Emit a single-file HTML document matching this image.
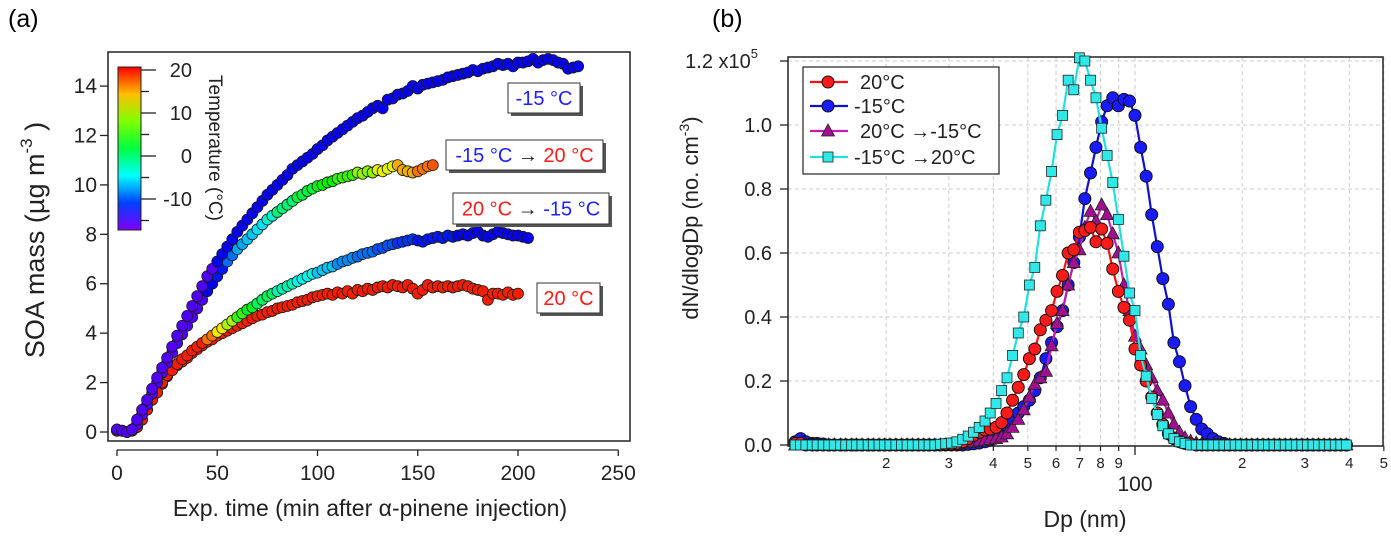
<!DOCTYPE html>
<html><head><meta charset="utf-8"><style>
html,body{margin:0;padding:0;background:#fff;}
svg{display:block;font-family:"Liberation Sans",Arial,sans-serif;}
</style></head><body>
<svg id="fig" width="1391" height="539" viewBox="0 0 1391 539" xmlns="http://www.w3.org/2000/svg">
<defs>
<linearGradient id="cbar" x1="0" y1="0" x2="0" y2="1">
<stop offset="0" stop-color="hsl(0,100%,50%)"/><stop offset="0.167" stop-color="hsl(45,100%,50%)"/>
<stop offset="0.333" stop-color="hsl(90,100%,50%)"/><stop offset="0.5" stop-color="hsl(135,100%,50%)"/>
<stop offset="0.667" stop-color="hsl(180,100%,50%)"/><stop offset="0.833" stop-color="hsl(225,100%,50%)"/>
<stop offset="1" stop-color="hsl(270,100%,50%)"/>
</linearGradient>
</defs>
<text x="8" y="27" font-size="25">(a)</text>
<text x="712" y="27" font-size="25">(b)</text>
<g id="pa"></g>
<g id="pb"></g>
</svg>
<script>
// ---------- Panel (a) data ----------
const tStep = 2.5;
const massA = [0.1,0.05,0.0,0.1,0.5,0.9,1.3,1.75,2.2,2.6,3.0,3.45,3.9,4.3,4.7,5.1,5.5,5.9,6.3,6.6,6.9,7.2,7.5,7.8,8.1,8.35,8.6,8.85,9.1,9.35,9.6,9.8,10.0,10.2,10.4,10.65,10.8,10.95,11.1,11.25,11.45,11.6,11.8,11.95,12.1,12.25,12.4,12.55,12.7,12.8,12.95,13.1,13.2,13.1,13.45,13.5,13.65,13.7,13.8,14.0,13.9,14.05,14.1,14.15,14.2,14.25,14.35,14.4,14.45,14.5,14.55,14.65,14.6,14.7,14.75,14.8,14.9,14.85,14.9,14.8,14.95,14.95,15.0,15.1,14.95,15.05,15.1,15.05,14.95,14.9,14.7,14.75,14.8];
const massB = [0.1,0.05,0.0,0.1,0.3,0.7,1.1,1.55,2.0,2.4,2.8,3.2,3.6,3.95,4.3,4.65,5.0,5.35,5.7,6.0,6.3,6.6,6.9,7.15,7.4,7.6,7.8,8.0,8.2,8.4,8.6,8.75,8.9,9.05,9.2,9.35,9.5,9.6,9.75,9.85,9.95,10.0,10.1,10.15,10.25,10.3,10.35,10.4,10.5,10.45,10.55,10.5,10.6,10.55,10.65,10.75,10.8,10.6,10.55,10.5,10.55,10.65,10.75,10.8];
const massC = [0.05,0.05,0.0,0.05,0.2,0.5,0.9,1.3,1.6,2.0,2.3,2.5,2.75,2.95,3.1,3.3,3.45,3.6,3.75,3.9,4.05,4.2,4.35,4.5,4.65,4.8,4.95,5.05,5.2,5.35,5.5,5.6,5.7,5.8,5.9,6.0,6.1,6.2,6.3,6.4,6.45,6.55,6.65,6.7,6.8,6.9,6.95,7.05,7.1,7.2,7.25,7.3,7.4,7.45,7.55,7.6,7.65,7.7,7.75,7.8,7.75,7.7,7.8,7.85,7.9,7.85,7.95,7.9,7.95,8.0,7.95,8.05,8.1,7.95,7.9,8.0,8.1,8.05,8.0,7.95,7.95,7.9,7.85];
const massD = [0.05,0.05,0.0,0.05,0.2,0.5,0.9,1.3,1.6,1.95,2.25,2.5,2.7,2.85,3.0,3.2,3.35,3.5,3.65,3.75,3.9,4.0,4.1,4.2,4.3,4.4,4.5,4.6,4.7,4.75,4.85,4.9,5.0,5.05,5.1,5.15,5.25,5.3,5.35,5.45,5.5,5.55,5.6,5.55,5.65,5.6,5.7,5.6,5.75,5.7,5.8,5.75,5.85,5.9,5.85,5.95,5.9,5.85,5.95,5.8,5.6,5.75,5.95,5.85,5.9,5.85,5.9,5.85,5.9,5.95,5.9,5.8,5.75,5.7,5.35,5.6,5.6,5.55,5.65,5.55,5.6];
const tempTimesA = [0,50]; const tempA = [-15.5,-13];
const tempTimesB = [0,45,50,55,60,65,70,75,80,90,100,110,120,130,140,150,157.5];
const tempB = [-15.5,-13,-12,-9,-7,-6,-5,-3,0,2,4,6,9,12,15,17,18];
const tempTimesC = [0,40,45,50,55,60,65,70,80,90,100,110,120,130,140,150,170];
const tempC = [20,20,17,13,10,6,3,1,-2,-4,-6,-8,-9,-10,-11,-12,-13];
const tempTimesD = [0]; const tempD = [20];
const xTicksA = [0,50,100,150,200,250];
const yTicksA = [0,2,4,6,8,10,12,14];
const cbarTicks = [20,10,0,-10];
const cbarMinor = [15,5,-5,-15];

// ---------- Panel (b) data ----------
const dpBins = [11.1,11.5,11.9,12.4,12.8,13.3,13.8,14.3,14.9,15.4,
16.0,16.5,17.1,17.8,18.4,19.1,19.8,20.5,21.3,22.1,
22.9,23.7,24.6,25.5,26.4,27.4,28.4,29.4,30.5,31.6,
32.8,34.0,35.2,36.5,37.9,39.2,40.7,42.2,43.7,45.3,
47.0,48.7,50.5,52.3,54.2,56.2,58.3,60.4,62.6,64.9,
67.3,69.8,72.3,75.0,77.7,80.6,83.5,86.6,89.8,93.1,
96.5,100.0,103.7,107.5,111.4,115.5,119.7,124.1,128.6,133.3,
138.2,143.3,148.6,154.0,159.6,165.5,171.5,177.8,184.3,191.1,
198.1,205.4,212.9,220.7,228.8,237.1,245.8,254.8,264.2,273.8,
283.9,294.3,305.1,316.2,327.8,339.8,352.3,365.2,378.6,392.4];
const dN20 = [0.005,0.005,0,0,0,0,0,0,0,0,
0,0,0,0,0,0,0,0,0,0,
0,0,0,0,0,0,0,0.002,0.003,0.005,
0.01,0.02,0.03,0.04,0.047,0.05,0.055,0.07,0.10,0.14,
0.18,0.22,0.27,0.30,0.36,0.39,0.42,0.48,0.53,0.60,
0.61,0.665,0.67,0.68,0.635,0.675,0.63,0.55,0.48,0.43,
0.39,0.30,0.25,0.20,0.15,0.10,0.065,0.035,0.02,0.01,
0.005,0.003,0,0,0,0,0,0,0,0,
0,0,0,0,0,0,0,0,0,0,
0,0,0,0,0,0,0,0,0,0];
const dNm15 = [0.01,0.02,0.01,0.005,0.005,0.003,0,0,0,0,
0,0,0,0,0,0,0,0,0,0,
0,0,0,0,0,0,0,0,0,0,
0,0.002,0.004,0.006,0.01,0.015,0.025,0.04,0.06,0.08,
0.10,0.12,0.14,0.17,0.21,0.27,0.32,0.37,0.42,0.50,
0.57,0.65,0.77,0.85,0.93,1.01,1.06,1.085,1.06,1.08,
1.075,1.03,0.93,0.84,0.72,0.62,0.52,0.44,0.32,0.26,
0.185,0.12,0.08,0.05,0.035,0.02,0.01,0.005,0,0,
0,0,0,0,0,0,0,0,0,0,
0,0,0,0,0,0,0,0,0,0];
const dN20to15 = [0,0,0,0,0,0,0,0,0,0,
0,0,0,0,0,0,0,0,0,0,
0,0,0,0,0,0,0,0,0,0.002,
0.005,0.008,0.01,0.012,0.015,0.018,0.02,0.025,0.035,0.055,
0.08,0.11,0.15,0.19,0.21,0.23,0.31,0.38,0.42,0.50,
0.57,0.61,0.68,0.73,0.70,0.75,0.72,0.66,0.60,0.50,
0.42,0.34,0.30,0.25,0.21,0.17,0.14,0.10,0.065,0.04,
0.022,0.012,0.006,0.003,0,0,0,0,0,0,
0,0,0,0,0,0,0,0,0,0,
0,0,0,0,0,0,0,0,0,0];
const dN15to20 = [0,0,0,0,0,0,0,0,0,0,
0,0,0,0,0,0,0,0,0,0,
0,0,0,0,0,0,0.002,0.004,0.006,0.01,
0.018,0.028,0.04,0.055,0.075,0.10,0.13,0.17,0.21,0.28,
0.35,0.40,0.50,0.555,0.685,0.765,0.855,0.97,1.03,1.14,
1.11,1.21,1.20,1.14,1.085,0.99,0.905,0.82,0.705,0.59,
0.475,0.42,0.28,0.215,0.145,0.095,0.06,0.035,0.02,0.01,
0.005,0,0,0,0,0,0,0,0,0,
0,0,0,0,0,0,0,0,0,0,
0,0,0,0,0,0,0,0,0,0];
const yTicksB = [0.0,0.2,0.4,0.6,0.8,1.0];
const yTickLabelsB = ["0.0","0.2","0.4","0.6","0.8","1.0"];
const xMinorB = [20,30,40,50,60,70,80,90,200,300,400,500];
const xMinorLabelsB = ["2","3","4","5","6","7","8","9","2","3","4","5"];

const NS = "http://www.w3.org/2000/svg";
function mk(parent, tag, attrs, text){
  const e = document.createElementNS(NS, tag);
  for (const k in attrs) e.setAttribute(k, attrs[k]);
  if (text !== undefined) e.textContent = text;
  parent.appendChild(e);
  return e;
}
const xA = t => 117 + t * 2.005;
const yA = v => 432 - v * 24.71;
const xB = d => 1135 + 356 * Math.log10(d / 100);
const yB = v => 445 - v * 320;
function tempColor(T){ const h = 270 * (21 - T) / 38; return "hsl(" + Math.max(0, Math.min(270, h)) + ",100%,48%)"; }
function tempAt(t, times, temps){ let T = temps[0]; for (let i = 0; i < times.length; i++) if (times[i] <= t) T = temps[i]; return T; }

// ---------- Panel (a) ----------
const pa = document.getElementById("pa");
const frameA = mk(pa, "rect", {x:108, y:52, width:522, height:389, fill:"none", stroke:"#222", "stroke-width":1.5});


yTicksA.forEach(v => {
  const tk = mk(pa, "line", {x1:100, x2:108, y1:yA(v), y2:yA(v), stroke:"#222", "stroke-width":1.3});
  
  
  const lb = mk(pa, "text", {x:97, y:yA(v) + 7, "font-size":21, "text-anchor":"end", fill:"#222"}, String(v));
  
  
});
const xAxisA = mk(pa, "line", {x1:xA(0), x2:xA(250), y1:450, y2:450, stroke:"#222", "stroke-width":1.3});


xTicksA.forEach(v => {
  const tk = mk(pa, "line", {x1:xA(v), x2:xA(v), y1:450, y2:456, stroke:"#222", "stroke-width":1.3});
  
  
  const lb = mk(pa, "text", {x:xA(v), y:480, "font-size":21, "text-anchor":"middle", fill:"#222"}, String(v));
  
  
});
const xtA = mk(pa, "text", {x:370, y:516, "font-size":23, "text-anchor":"middle", fill:"#222"}, "Exp.  time (min after α-pinene injection)");


xtA.setAttribute('xml:space', 'preserve');
const ytA = mk(pa, "text", {transform:"translate(44,240) rotate(-90)", "font-size":27, "text-anchor":"middle", fill:"#222"});


ytA.innerHTML = 'SOA mass (µg m<tspan dy="-12" font-size="17">-3</tspan><tspan dy="12"> )</tspan>';

const cb = mk(pa, "rect", {x:118, y:67, width:23, height:163, fill:"url(#cbar)", stroke:"#222", "stroke-width":1});


const yC = T => 70 + (20 - T) * 4.3;
cbarTicks.forEach(T => {
  const tk = mk(pa, "line", {x1:141, x2:156, y1:yC(T), y2:yC(T), stroke:"#222", "stroke-width":1.3});
  
  
  const lb = mk(pa, "text", {x:192, y:yC(T) + 7, "font-size":20, "text-anchor":"end", fill:"#222"}, String(T));
  
  
});
cbarMinor.forEach(T => {
  const tk = mk(pa, "line", {x1:141, x2:149, y1:yC(T), y2:yC(T), stroke:"#222", "stroke-width":1.3});
  
  
});
const cbt = mk(pa, "text", {transform:"translate(209,148) rotate(90)", "font-size":19, "text-anchor":"middle", fill:"#222"}, "Temperature (°C)");



function drawSeriesA(vals, times, temps, name){
  const g = mk(pa, "g", {});
  
  
  vals.forEach((v, i) => {
    const t = i * tStep;
    const c = mk(g, "circle", {cx:xA(t), cy:yA(v), r:5.5, fill:tempColor(tempAt(t, times, temps)), stroke:"#1a1a1a", "stroke-width":0.8});
    
    
  });
}
drawSeriesA(massD, tempTimesD, tempD, "series-20c");
drawSeriesA(massC, tempTimesC, tempC, "series-20c-to-m15c");
drawSeriesA(massB, tempTimesB, tempB, "series-m15c-to-20c");
drawSeriesA(massA, tempTimesA, tempA, "series-m15c");

function annot(x, y, w, h, parts, name){
  const g = mk(pa, "g", {});
  
  
  mk(g, "rect", {x:x + 3, y:y + 3, width:w, height:h, fill:"#555"});
  mk(g, "rect", {x:x, y:y, width:w, height:h, fill:"#fff", stroke:"#333", "stroke-width":1});
  const t = mk(g, "text", {x:x + w / 2, y:y + h / 2 + 7, "font-size":20, "text-anchor":"middle"});
  t.innerHTML = parts;
}
annot(508, 83, 72, 30, '<tspan fill="#1f1fff">-15 °C</tspan>', "label-m15c");
annot(446, 140, 157, 30, '<tspan fill="#1f1fff">-15 °C</tspan><tspan fill="#222"> → </tspan><tspan fill="#ff1a1a">20 °C</tspan>', "label-m15c-to-20c");
annot(453, 193, 156, 31, '<tspan fill="#ff1a1a">20 °C</tspan><tspan fill="#222"> → </tspan><tspan fill="#1f1fff">-15 °C</tspan>', "label-20c-to-m15c");
annot(537, 283, 63, 30, '<tspan fill="#ff1a1a">20 °C</tspan>', "label-20c");

// ---------- Panel (b) ----------
const pb = document.getElementById("pb");
const L = 788, R = 1383, T0 = 57, B0 = 446;
yTicksB.concat([1.2]).forEach(v => {
  if (v > 0) {
    const gl = mk(pb, "line", {x1:L, x2:R, y1:yB(v), y2:yB(v), stroke:"#ccc", "stroke-width":1, "stroke-dasharray":"4,3"});
    
    
  }
});
xMinorB.concat([100]).forEach(d => {
  const gl = mk(pb, "line", {x1:xB(d), x2:xB(d), y1:T0, y2:B0, stroke:"#ccc", "stroke-width":1, "stroke-dasharray":"4,3"});
  
  
});
const frameB = mk(pb, "rect", {x:L, y:T0, width:R - L, height:B0 - T0, fill:"none", stroke:"#222", "stroke-width":1.5});


yTicksB.forEach((v, i) => {
  const tk = mk(pb, "line", {x1:780, x2:788, y1:yB(v), y2:yB(v), stroke:"#222", "stroke-width":1.3});
  
  
  const lb = mk(pb, "text", {x:772, y:yB(v) + 7, "font-size":20, "text-anchor":"end", fill:"#222"}, yTickLabelsB[i]);
  
  
});
const tk12 = mk(pb, "line", {x1:780, x2:788, y1:yB(1.2), y2:yB(1.2), stroke:"#222", "stroke-width":1.3});


const lb12 = mk(pb, "text", {x:758, y:yB(1.2) + 7, "font-size":20, "text-anchor":"end", fill:"#222"});


lb12.innerHTML = '1.2 x10<tspan dy="-10" font-size="13">5</tspan>';
xMinorB.forEach((d, i) => {
  const tk = mk(pb, "line", {x1:xB(d), x2:xB(d), y1:B0, y2:B0 + 5, stroke:"#222", "stroke-width":1.2});
  
  
  const lb = mk(pb, "text", {x:xB(d), y:468, "font-size":15, "text-anchor":"middle", fill:"#222"}, xMinorLabelsB[i]);
  
  
});
const tk100 = mk(pb, "line", {x1:xB(100), x2:xB(100), y1:B0, y2:B0 + 9, stroke:"#222", "stroke-width":1.3});


const lb100 = mk(pb, "text", {x:xB(100), y:491, "font-size":21, "text-anchor":"middle", fill:"#222"}, "100");


const xtB = mk(pb, "text", {x:1085, y:527, "font-size":23, "text-anchor":"middle", fill:"#222"}, "Dp (nm)");


const ytB = mk(pb, "text", {transform:"translate(698,218) rotate(-90)", "font-size":22, "text-anchor":"middle", fill:"#222"});


ytB.innerHTML = 'dN/dlogDp (no. cm<tspan dy="-9" font-size="14">-3</tspan><tspan dy="9">)</tspan>';

function marker(g, kind, x, y, fill){
  let m;
  if (kind === "circle") m = mk(g, "circle", {cx:x, cy:y, r:6, fill:fill, stroke:"#111", "stroke-width":1});
  else if (kind === "square") m = mk(g, "rect", {x:x - 5, y:y - 5, width:10, height:10, fill:fill, stroke:"#222", "stroke-width":0.8});
  else m = mk(g, "polygon", {points:(x) + "," + (y - 7) + " " + (x - 6.5) + "," + (y + 5) + " " + (x + 6.5) + "," + (y + 5), fill:fill, stroke:"#222", "stroke-width":0.8});
  return m;
}
function drawSeriesB(vals, kind, lineCol, fill, name){
  const g = mk(pb, "g", {});
  
  
  const pts = vals.map((v, i) => xB(dpBins[i]) + "," + yB(v)).join(" ");
  const pl = mk(g, "polyline", {points:pts, fill:"none", stroke:lineCol, "stroke-width":2.2});
  
  
  vals.forEach((v, i) => {
    const m = marker(g, kind, xB(dpBins[i]), yB(v), fill);
    
    
  });
}
drawSeriesB(dNm15, "circle", "#1010d0", "#1a1aff", "series-b-m15c");
drawSeriesB(dN20to15, "triangle", "#c020b0", "#a0108f", "series-b-20c-to-m15c");
drawSeriesB(dN20, "circle", "#ff1010", "#ff1a1a", "series-b-20c");
drawSeriesB(dN15to20, "square", "#20e0e0", "#30e8e8", "series-b-m15c-to-20c");

const lg = mk(pb, "g", {});


mk(lg, "rect", {x:803, y:67, width:196, height:107, fill:"#fff", stroke:"#222", "stroke-width":1.2});
const legY = [82, 106, 131, 157];
const legKinds = ["circle", "circle", "triangle", "square"];
const legLine = ["#ff1010", "#1010d0", "#c020b0", "#20e0e0"];
const legFill = ["#ff1a1a", "#1a1aff", "#a0108f", "#30e8e8"];
const legText = ["20°C", "-15°C", "20°C →-15°C", "-15°C →20°C"];
const legX = [860, 854, 860, 854];
legY.forEach((y, i) => {
  const e = mk(lg, "g", {});
  
  
  mk(e, "line", {x1:810, x2:848, y1:y, y2:y, stroke:legLine[i], "stroke-width":2.2});
  marker(e, legKinds[i], 828, y, legFill[i]);
  mk(e, "text", {x:legX[i], y:y + 7, "font-size":20, fill:"#222"}, legText[i]);
});
</script>
</body></html>
